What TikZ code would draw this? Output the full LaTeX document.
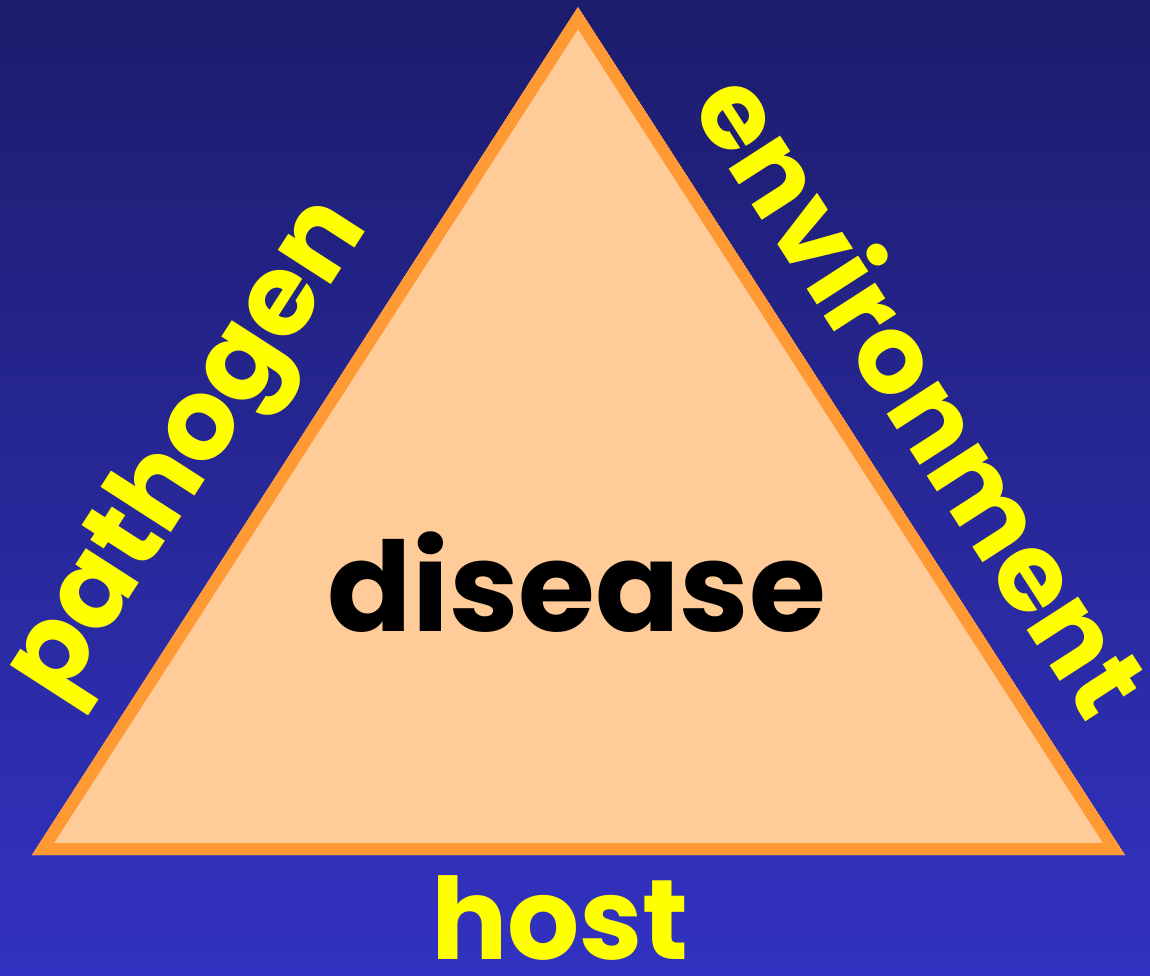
\documentclass[tikz,border=0pt]{standalone}
\usepackage{fontspec}
\setmainfont{Poppins}
\usepackage{graphicx}
\usetikzlibrary{positioning}
\definecolor{navytop}{RGB}{28,28,108}
\definecolor{navybottom}{RGB}{50,50,194}
\definecolor{rim}{RGB}{255,153,51}
\definecolor{peach}{RGB}{255,204,153}
\definecolor{labelyellow}{RGB}{255,255,0}
\tikzset{
    % Label styles
    side label/.style={text=labelyellow, inner sep=0pt, font=\bfseries},
    core label/.style={text=black, inner sep=0pt, font=\bfseries},
}
\newcommand{\fitw}[2]{\resizebox{\dimexpr 0.02cm*#1\relax}{!}{#2}}
\begin{document}
\begin{tikzpicture}[x=0.02cm, y=-0.02cm]
    % Background
    \useasboundingbox (0,0) rectangle (1150,976);
    \shade[top color=navytop, bottom color=navybottom] (0,0) rectangle (1150,976);

    % Triangle corners
    \coordinate (apex) at (578,7);
    \coordinate (left) at (32,855);
    \coordinate (right) at (1125,855);

    % Triangle with inner rim
    \begin{scope}
        \clip (apex) -- (left) -- (right) -- cycle;
        \draw[rim, line width=24*0.02cm, fill=peach] (apex) -- (left) -- (right) -- cycle;
    \end{scope}

    % Labels
    \node[core label] (disease) at (577,582) {\fitw{498}{disease}};
    \node[side label, rotate=57.2] (pathogen) at (192,452) {\fitw{570}{pathogen}};
    \node[side label, rotate=-57.2] (environment) at (925,392) {\fitw{735}{environment}};
    \node[side label] (host) at (560,918) {\fitw{258}{host}};
\end{tikzpicture}
\end{document}
